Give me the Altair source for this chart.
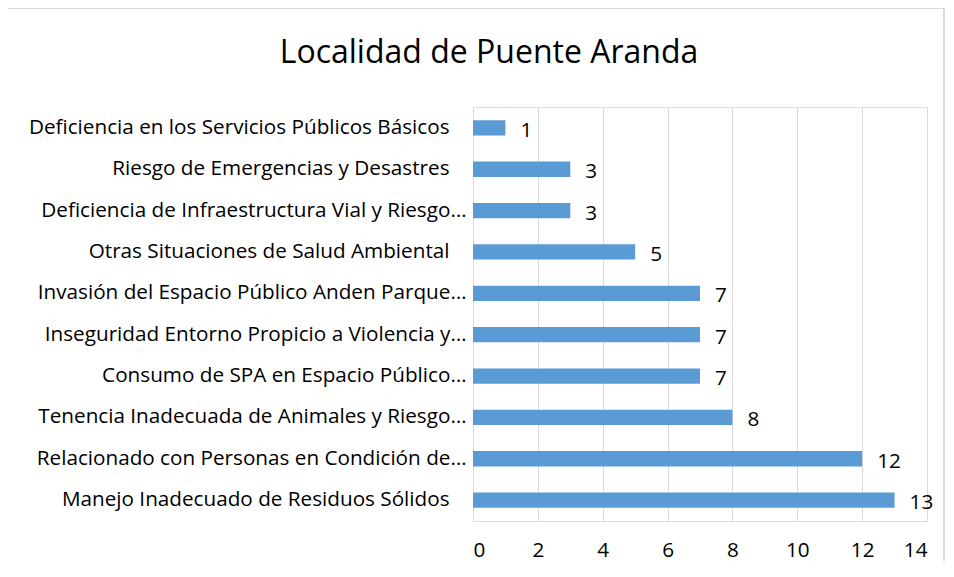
import altair as alt
import pandas as pd

title_text = "Localidad de Puente Aranda"
categories = [
    "Deficiencia en los Servicios Públicos Básicos",
    "Riesgo de Emergencias y Desastres",
    "Deficiencia de Infraestructura Vial  y Riesgo…",
    "Otras Situaciones de Salud Ambiental",
    "Invasión del Espacio Público Anden Parque…",
    "Inseguridad Entorno Propicio a Violencia y…",
    "Consumo de SPA en Espacio Público…",
    "Tenencia Inadecuada de Animales y Riesgo…",
    "Relacionado con Personas en Condición de…",
    "Manejo Inadecuado de Residuos Sólidos",
]
values = [1, 3, 3, 5, 7, 7, 7, 8, 12, 13]
x_ticks = [0, 2, 4, 6, 8, 10, 12, 14]

df = pd.DataFrame({"cat": categories, "val": values})
df_title = pd.DataFrame({"t": [title_text]})

FONT = "Open Sans"
FS = 20.7
BAR = "#5B9BD5"
GRID = "#D9D9D9"

y_enc = alt.Y(
    "cat:N",
    sort=categories,
    scale=alt.Scale(paddingInner=0.63, paddingOuter=0.32),
    axis=alt.Axis(
        title=None,
        domain=False,
        ticks=False,
        labelPadding={"condition": {"test": "test(/…/, datum.label)", "value": 7}, "value": 24},
        labelFontSize=FS,
        labelFont=FONT,
        labelColor="#000000",
        labelLimit=600,
    ),
)
x_enc = alt.X(
    "val:Q",
    scale=alt.Scale(domain=[0, 14]),
    axis=alt.Axis(
        title=None,
        values=x_ticks,
        domain=False,
        ticks=False,
        grid=True,
        gridColor=GRID,
        gridWidth=1,
        labelPadding=19,
        labelFontSize=FS,
        labelFont=FONT,
        labelColor="#000000",
    ),
)

bars = alt.Chart(df).mark_bar(color=BAR).encode(x=x_enc, y=y_enc)
labels = alt.Chart(df).mark_text(
    align="left", baseline="middle", dx=15, dy=3, fontSize=FS, font=FONT, color="#000000"
).encode(x="val:Q", y=alt.Y("cat:N", sort=categories), text="val:Q")

title = alt.Chart(df_title).mark_text(
    align="center", baseline="middle", fontSize=32, font=FONT, color="#000000"
).encode(text="t:N", x=alt.value(16), y=alt.value(-54))

border = alt.Chart(df).mark_rect(
    fill=None, stroke="#D9D9D9", strokeWidth=1.5
).encode(
    x=alt.value(-466), x2=alt.value(471), y=alt.value(-99), y2=alt.value(475)
)

chart = (
    alt.layer(border, bars, labels, title)
    .properties(
        width=454,
        height=414,
        padding={"left": 465, "top": 99, "right": 18, "bottom": 40},
        autosize=alt.AutoSizeParams(type="none"),
    )
    .configure_view(stroke=None)
    .configure(background="white")
)

chart.save("out.html", embed_options={"renderer": "svg", "actions": False})
